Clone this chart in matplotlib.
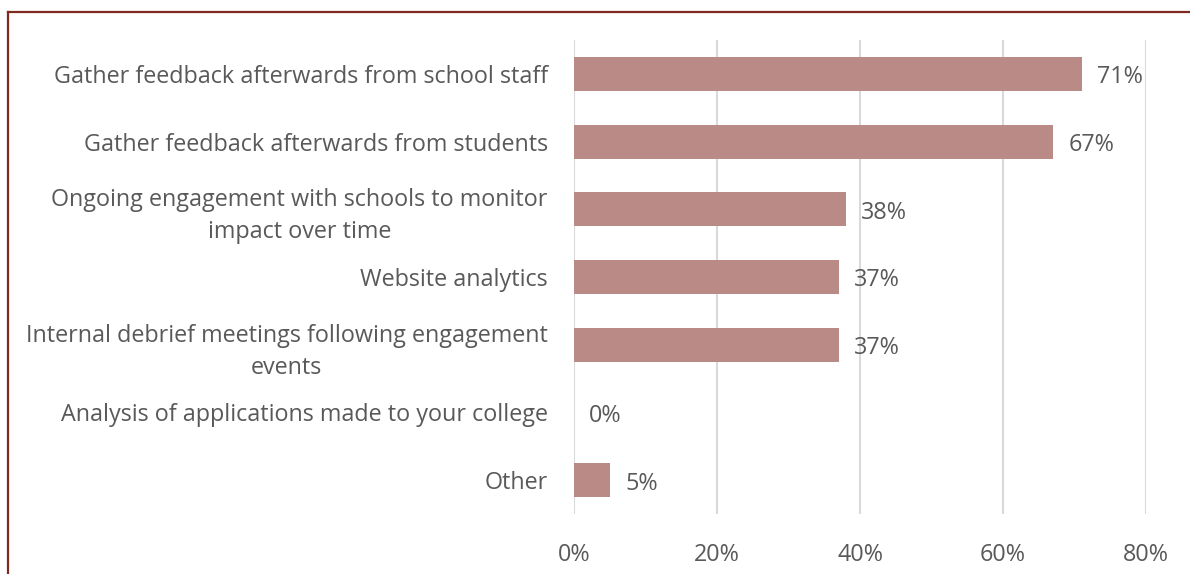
import matplotlib.pyplot as plt
from matplotlib.lines import Line2D
from matplotlib.ticker import FuncFormatter

plt.rcParams["font.family"] = ["Open Sans", "DejaVu Sans"]

categories = [
    "Gather feedback afterwards from school staff",
    "Gather feedback afterwards from students",
    "Ongoing engagement with schools to monitor\nimpact over time",
    "Website analytics",
    "Internal debrief meetings following engagement\nevents",
    "Analysis of applications made to your college",
    "Other",
]
values = [71, 67, 38, 37, 37, 0, 5]
xticks = [0, 20, 40, 60, 80]

text_grey = "#595959"
bar_color = "#B98A86"
frame_red = "#7F2A1E"
fs = 16.8

fig = plt.figure(figsize=(11.9, 5.74), dpi=100)
ax = fig.add_axes([0.4824, 0.1045, 0.4807, 0.8258])

y = list(range(len(categories)))
ax.barh(y, values, height=0.5, color=bar_color, linewidth=0, zorder=3)
for yi, v in zip(y, values):
    ax.annotate(f"{v}%", (v, yi), xytext=(11, -2.5), textcoords="offset points",
                va="center", ha="left", fontsize=fs, color=text_grey)

ax.set_xlim(0, 80)
ax.set_ylim(len(categories) - 0.5, -0.5)
ax.set_xticks(xticks)
ax.xaxis.set_major_formatter(FuncFormatter(lambda v, _: f"{v:.0f}%"))
ax.set_yticks(y)
ax.set_yticklabels(categories, multialignment="center", linespacing=1.45)
ax.tick_params(axis="both", length=0, labelsize=fs, labelcolor=text_grey)
ax.tick_params(axis="y", pad=19)
ax.tick_params(axis="x", pad=21)
ax.grid(axis="x", color="#D9D9D9", linewidth=1.5, zorder=0)
for s in ax.spines.values():
    s.set_visible(False)

# frame edges on the left and top
fig.add_artist(Line2D([8 / 1190, 8 / 1190], [0, 1 - 12 / 574],
                      transform=fig.transFigure, color=frame_red, linewidth=1.6))
fig.add_artist(Line2D([8 / 1190, 1], [1 - 12 / 574, 1 - 12 / 574],
                      transform=fig.transFigure, color=frame_red, linewidth=1.6))

fig.savefig("out.png", dpi=100)
